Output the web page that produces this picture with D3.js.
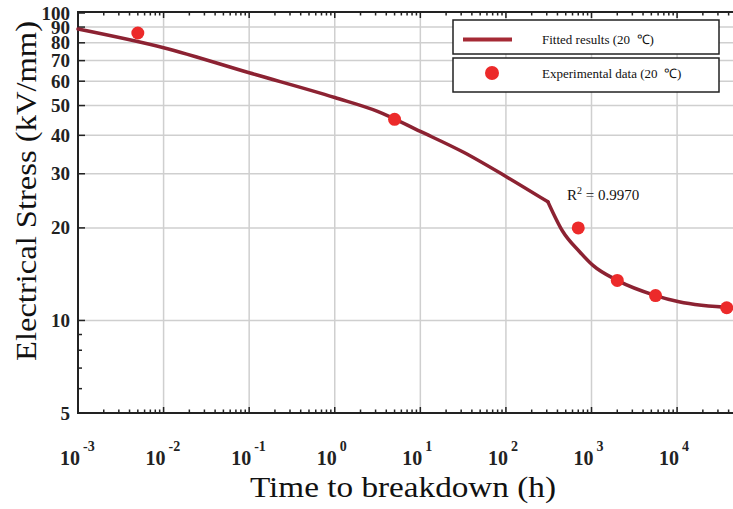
<!DOCTYPE html>
<html><head><meta charset="utf-8">
<script src="https://cdn.jsdelivr.net/npm/d3@7"></script>
<style>body{margin:0;background:#fff}svg{display:block}</style>
</head><body>
<svg id="c" width="733" height="509"></svg>
<script>
// Fitted curve (time in h, stress in kV/mm); the fit has a kink at ~310 h
const fitTime   = [0.001, 0.01, 0.1, 1, 3.16, 10, 31.6, 100, 310, 460, 730, 1040, 2000, 5600, 10500, 45000];
const fitStress = [88.7, 77.1, 63.9, 53.1, 47.9, 41.2, 35.3, 29.4, 24.3, 19.5, 16.7, 15.1, 13.5, 12.05, 11.5, 11.0];
const kinkIndex = 8;
// Experimental data
const expTime   = [0.005, 5, 700, 2000, 5600, 38000];
const expStress = [86.1, 45.1, 20.0, 13.5, 12.05, 11.0];
// Axis ticks
const xMajor = [0.001, 0.01, 0.1, 1, 10, 100, 1000, 10000];
const xExp   = ["-3", "-2", "-1", "0", "1", "2", "3", "4"];
const yMajor = [5, 10, 20, 30, 40, 50, 60, 70, 80, 90, 100];
const yMinor = [6, 7, 8, 9];
const yGrid  = [10, 20, 30, 40, 50, 60, 70, 80, 90];
const legendLabels = ["Fitted results (20\u00a0\u00a0\u2103)", "Experimental data (20\u00a0\u00a0\u2103)"];

const svg = d3.select("#c");
const L = 78, R = 733, T = 13, B = 413;
const x = d3.scaleLog().domain([1e-3, 4.5e4]).range([L, R]);
const y = d3.scaleLog().domain([5, 100]).range([B, T]);
const serif = "'Liberation Serif','Times New Roman',serif";

// minor x ticks
const xMinor = [];
xMajor.forEach(d => { for (let k = 2; k <= 9; k++) { const v = d * k; if (v <= 4.5e4) xMinor.push(v); } });

// grid
const g = svg.append("g");
g.selectAll("line.vg").data(xMajor.slice(1)).join("line")
  .attr("x1", d => x(d)).attr("x2", d => x(d)).attr("y1", T).attr("y2", B)
  .attr("stroke", "#cfcfcf").attr("stroke-width", 1.5);
g.selectAll("line.hg").data(yGrid).join("line")
  .attr("x1", L).attr("x2", R).attr("y1", d => y(d)).attr("y2", d => y(d))
  .attr("stroke", "#cfcfcf").attr("stroke-width", 1.5);

// axes lines
const ax = svg.append("g").attr("stroke", "#222").attr("stroke-width", 2);
ax.append("line").attr("x1", L).attr("x2", L).attr("y1", T - 1).attr("y2", B + 1);
ax.append("line").attr("x1", L - 1).attr("x2", R).attr("y1", B).attr("y2", B);
ax.append("line").attr("x1", L - 1).attr("x2", R).attr("y1", T - 1).attr("y2", T - 1);

const tk = svg.append("g").attr("stroke", "#222").attr("stroke-width", 1.5);
tk.selectAll("line.bM").data(xMajor).join("line")
  .attr("x1", d => x(d)).attr("x2", d => x(d)).attr("y1", B).attr("y2", B - 6);
tk.selectAll("line.bm").data(xMinor).join("line")
  .attr("x1", d => x(d)).attr("x2", d => x(d)).attr("y1", B).attr("y2", B - 3.5);
tk.selectAll("line.tM").data(xMajor).join("line")
  .attr("x1", d => x(d)).attr("x2", d => x(d)).attr("y1", T - 1).attr("y2", T + 5);
tk.selectAll("line.tm").data(xMinor).join("line")
  .attr("x1", d => x(d)).attr("x2", d => x(d)).attr("y1", T - 1).attr("y2", T + 2.5);
tk.selectAll("line.lM").data(yMajor).join("line")
  .attr("x1", L).attr("x2", L + 7).attr("y1", d => y(d)).attr("y2", d => y(d));
tk.selectAll("line.lm").data(yMinor).join("line")
  .attr("x1", L).attr("x2", L + 4).attr("y1", d => y(d)).attr("y2", d => y(d));

// y tick labels
svg.append("g").selectAll("text").data(yMajor).join("text")
  .attr("x", 70).attr("y", d => y(d) + 6.5)
  .attr("text-anchor", "end").attr("font-family", serif).attr("font-weight", "bold")
  .attr("font-size", 19).attr("fill", "#222").text(d => d);

// x tick labels
const xl = svg.append("g").selectAll("text").data(xMajor).join("text")
  .attr("x", d => x(d) - 18).attr("y", 465)
  .attr("font-family", serif).attr("font-weight", "bold").attr("fill", "#222");
xl.append("tspan").attr("font-size", 20).text("10");
xl.append("tspan").attr("font-size", 14).attr("dx", 3).attr("dy", -14).text((d, i) => xExp[i]);

// titles
svg.append("text").attr("x", 403).attr("y", 497).attr("text-anchor", "middle")
  .attr("font-family", serif).attr("font-size", 30).attr("fill", "#111")
  .attr("textLength", 306).attr("lengthAdjust", "spacingAndGlyphs")
  .text("Time to breakdown (h)");
svg.append("text").attr("transform", "translate(36,191) rotate(-90)").attr("text-anchor", "middle")
  .attr("font-family", serif).attr("font-size", 29).attr("fill", "#111")
  .attr("textLength", 340).attr("lengthAdjust", "spacingAndGlyphs")
  .text("Electrical Stress (kV/mm)");

// fitted curve: two smooth pieces meeting at the kink
const pts = fitTime.map((t, i) => [t, fitStress[i]]);
const line = d3.line().x(d => x(d[0])).y(d => y(d[1])).curve(d3.curveMonotoneX);
const cg = svg.append("g").attr("fill", "none").attr("stroke", "#8c2232").attr("stroke-width", 3.5)
  .attr("stroke-linejoin", "round").attr("stroke-linecap", "round");
cg.append("path").attr("d", line(pts.slice(0, kinkIndex + 1)));
cg.append("path").attr("d", line(pts.slice(kinkIndex)));

// experimental points
svg.append("g").selectAll("circle").data(expTime.map((t, i) => [t, expStress[i]])).join("circle")
  .attr("cx", d => x(d[0])).attr("cy", d => y(d[1])).attr("r", 6.5).attr("fill", "#ec2a2a");

// R^2 annotation
const r2 = svg.append("text").attr("x", 567).attr("y", 200)
  .attr("font-family", serif).attr("font-size", 15).attr("fill", "#111");
r2.append("tspan").text("R");
r2.append("tspan").attr("font-size", 10).attr("dy", -6).text("2");
r2.append("tspan").attr("dy", 6).text(" = 0.9970");

// legend
const lg = svg.append("g");
lg.append("rect").attr("x", 453).attr("y", 20).attr("width", 266).attr("height", 34)
  .attr("fill", "#fff").attr("stroke", "#222").attr("stroke-width", 1.5);
lg.append("rect").attr("x", 453).attr("y", 58).attr("width", 266).attr("height", 34)
  .attr("fill", "#fff").attr("stroke", "#222").attr("stroke-width", 1.5);
lg.append("line").attr("x1", 463).attr("x2", 512).attr("y1", 39.5).attr("y2", 39.5)
  .attr("stroke", "#a52a35").attr("stroke-width", 4);
lg.append("circle").attr("cx", 492).attr("cy", 73).attr("r", 7).attr("fill", "#ec2a2a");
lg.selectAll("text").data(legendLabels).join("text")
  .attr("x", 542).attr("y", (d, i) => i === 0 ? 44 : 78)
  .attr("font-family", serif).attr("font-size", 13).attr("fill", "#111").text(d => d);
</script>
</body></html>
